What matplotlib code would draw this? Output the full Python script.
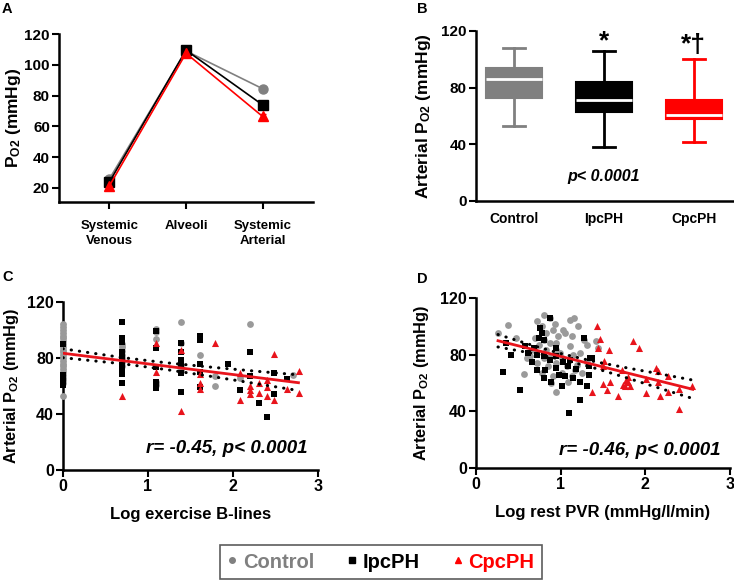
import numpy as np
import matplotlib
matplotlib.use("Agg")
from matplotlib import pyplot as plt
from matplotlib.lines import Line2D

plt.rcParams['font.family'] = ['Liberation Sans', 'DejaVu Sans']
plt.rcParams['font.weight'] = 'bold'
plt.rcParams['axes.labelweight'] = 'bold'
plt.rcParams['mathtext.fontset'] = 'custom'
plt.rcParams['mathtext.rm'] = 'Liberation Sans:bold'
plt.rcParams['mathtext.bf'] = 'Liberation Sans:bold'
plt.rcParams['mathtext.it'] = 'Liberation Sans:bold:italic'
plt.rcParams['mathtext.default'] = 'rm'

GRAY = '#808080'
GRAY_PT = '#9a9a9a'
RED = '#ff0000'
RED_PT = '#e8141c'

# ---- panel A: PO2 along the circuit (mean +- sem)
sites = ['Systemic\nVenous', 'Alveoli', 'Systemic\nArterial']
a_ctrl = [26, 109, 84.5]
a_ipc = [24, 109.5, 74]
a_cpc = [21.5, 107.5, 66.5]
a_ctrl_err = [1.0, 1.0, 1.0]
a_ipc_err = [1.0, 1.0, 1.5]
a_cpc_err = [1.2, 1.0, 1.8]

# ---- panel B: arterial PO2 box stats (min, q1, median, q3, max)
groups = ['Control', 'IpcPH', 'CpcPH']
b_min = [53, 38, 42]
b_q1 = [73, 63, 58]
b_med = [86, 71, 61]
b_q3 = [94, 84, 71]
b_max = [108, 106, 100]
b_marks = ['', '*', '*\u2020']

# ---- panel C: arterial PO2 vs log exercise B-lines
c_ctrl_x = [0, 0, 0, 0, 0, 0, 0, 0, 0, 0,
            0, 0, 0, 0, 0, 0, 0, 0, 0, 0,
            0, 0, 0,
            0.693, 0.693, 0.693, 0.693, 0.693, 0.693, 0.693,
            1.099, 1.099, 1.099, 1.099, 1.099,
            1.386, 1.386, 1.386, 1.386,
            1.609, 1.792, 1.792, 2.079, 2.197, 2.708]
c_ctrl_y = [53, 62, 64, 66, 68, 70, 72, 74, 76, 78,
            80, 82, 84, 86, 88, 90, 92, 94, 96, 98,
            100, 102, 104,
            90, 88, 85, 82, 80, 77, 74,
            101, 98.8, 93.3, 63, 61,
            106, 90.5, 75, 71.4,
            82, 67, 60, 65.5, 104, 68]
c_ipc_x = [0, 0, 0, 0, 0,
           0.693, 0.693, 0.693, 0.693, 0.693, 0.693, 0.693, 0.693, 0.693,
           1.099, 1.099, 1.099, 1.099, 1.099,
           1.386, 1.386, 1.386, 1.386, 1.386, 1.386,
           1.609, 1.609, 1.609, 1.609, 1.609,
           1.946, 2.079, 2.197, 2.197, 2.303, 2.398, 2.485, 2.485, 2.639]
c_ipc_y = [61, 63, 65, 68, 90,
           106, 94.5, 91.7, 84, 80, 75, 71, 68.6, 62,
           99.5, 87, 73.8, 63, 58.3,
           90.5, 84, 78.6, 75, 69, 56,
           95.7, 93, 76, 70, 59.5,
           75.5, 57, 84, 67.5, 48, 38, 69, 54, 65]
c_cpc_x = [0.693, 1.099, 1.099, 1.386, 1.386,
           1.609, 1.609, 1.609, 1.792, 2.079, 2.079,
           2.197, 2.197, 2.197, 2.303, 2.303, 2.398, 2.398, 2.398,
           2.485, 2.485, 2.639, 2.773, 2.773]
c_cpc_y = [53, 90.5, 70.2, 85.7, 42,
           68.6, 62, 58, 90.7, 69, 50,
           60, 57, 54, 62, 55, 64, 59.5, 53,
           83, 50, 58, 71, 55]
c_fit = [83.4, -7.6]                    # intercept, slope
c_band_x = [0, 0.7, 1.2, 1.8, 2.3, 2.77]
c_band_hw = [3.2, 2.2, 2.4, 3.4, 4.5, 5.6]

# ---- panel D: arterial PO2 vs log rest PVR
d_ctrl_x = [0.26, 0.38, 0.47, 0.57, 0.60, 0.80, 0.72, 0.78, 0.87, 0.93,
            0.91, 1.03, 1.11, 1.16, 1.21, 0.97, 1.05, 1.13, 0.83, 0.80,
            0.87, 0.95, 0.74, 0.68, 0.83, 0.95, 1.11, 1.27, 1.31, 1.42,
            1.44, 0.64, 0.80, 0.89, 1.01, 1.15, 1.23, 0.72, 0.85, 0.95,
            1.07, 1.19, 1.31, 0.78, 0.91, 1.01, 1.13, 1.25, 0.95, 1.09,
            0.89, 0.70, 0.99, 1.17]
d_ctrl_y = [95, 101, 92, 66.6, 78, 108, 103.5, 100, 106, 102,
            97.6, 97.6, 104.7, 106, 100, 93, 95, 93, 95, 90.6,
            88, 88, 87, 83.5, 83.5, 83.5, 86, 90.6, 87, 89.9,
            84.5, 79, 77.6, 79, 77.6, 80, 81, 74, 71.8, 74,
            71.8, 73, 75, 67, 64.7, 67, 64.7, 67, 54, 61,
            60, 92, 81, 69]
d_ipc_x = [0.32, 0.41, 0.52, 0.87, 0.76, 0.74, 0.80, 0.68, 0.62, 0.72,
           0.80, 0.87, 0.95, 1.03, 1.09, 1.11, 0.95, 0.81, 0.72, 0.80,
           0.89, 1.01, 1.05, 1.15, 1.23, 1.31, 1.23, 1.10, 1.33, 1.35,
           1.27, 1.33, 0.95, 1.37, 0.35, 0.58, 0.78, 0.98, 1.18, 0.66]
d_ipc_y = [68, 80, 55, 106, 99, 92, 90.6, 84.7, 81, 80,
           79, 76.5, 79, 75, 72, 76.5, 70.6, 69.4, 69.4, 63.5,
           61, 57.6, 64.7, 63.5, 61, 57.6, 48, 38.8, 66, 77.6,
           92, 72, 84.7, 77.4, 88, 86, 95, 66, 70, 75]
d_cpc_x = [1.425, 1.46, 1.44, 1.575, 1.92, 1.86, 1.51, 1.50, 1.37, 1.50,
           1.55, 1.58, 1.68, 1.72, 1.74, 1.79, 1.82, 1.77, 2.01, 2.13,
           2.15, 2.17, 2.15, 2.27, 2.27, 2.40, 2.40, 2.55, 2.01, 1.76,
           1.80]
d_cpc_y = [100, 91, 84.7, 83, 84.7, 89.9, 75.3, 71.8, 54, 59,
           55.3, 61, 50.6, 69.4, 58.8, 61, 57.6, 62, 53, 70.6,
           68.7, 50.6, 61, 64.7, 53.4, 55.8, 41.9, 58.1, 63, 58,
           64.5]
d_fit = [93.7, -14.9]
d_band_x = [0.26, 0.7, 1.0, 1.4, 1.8, 2.2, 2.56]
d_band_hw = [4.4, 2.7, 2.0, 2.3, 3.6, 5.2, 6.5]

W, H = 734, 581
fig = plt.figure(figsize=(W / 100, H / 100), dpi=100)


def px_axes(l, t, r, b):
    return fig.add_axes([l / W, 1 - b / H, (r - l) / W, (b - t) / H])


def style(ax, size=11):
    for s in ['top', 'right']:
        ax.spines[s].set_visible(False)
    for s in ['left', 'bottom']:
        ax.spines[s].set_linewidth(1.8)
    ax.tick_params(direction='out', length=5, width=1.5, labelsize=size, pad=1.5)


ylab = 'Arterial P$_{O2}$ (mmHg)'

# ===== A
axA = px_axes(59, 34, 313, 202)
style(axA)
xa = np.arange(len(sites))
axA.errorbar(xa, a_ctrl, yerr=a_ctrl_err, color=GRAY, marker='o', ms=6.5, lw=1.2, capsize=2)
axA.errorbar(xa, a_ipc, yerr=a_ipc_err, color='black', marker='s', ms=6.5, lw=1.2, capsize=2)
axA.errorbar(xa, a_cpc, yerr=a_cpc_err, color=RED, marker='^', ms=6.5, lw=1.2, capsize=2)
axA.set_xlim(-0.66, 2.66)
axA.set_ylim(10.9, 120)
axA.set_yticks([20, 40, 60, 80, 100, 120])
axA.set_xticks(xa)
axA.set_xticklabels(sites, fontsize=9.5, linespacing=1.35)
axA.tick_params(axis='x', pad=8)
axA.set_ylabel('P$_{O2}$ (mmHg)', fontsize=12.5)
axA.yaxis.set_label_coords(-0.142, 0.5)

# ===== B
axB = px_axes(476, 31, 734, 201)
style(axB)
stats = []
for i, g in enumerate(groups):
    stats.append(dict(label=g, whislo=b_min[i], q1=b_q1[i], med=b_med[i],
                      q3=b_q3[i], whishi=b_max[i]))
cols = [GRAY, 'black', RED]
bp = axB.bxp(stats, positions=[0, 1, 2], widths=0.63, patch_artist=True,
             showfliers=False, capwidths=0.25,
             medianprops=dict(color='white', lw=2))
for i, c in enumerate(cols):
    bp['boxes'][i].set(facecolor=c, edgecolor=c, lw=1.5)
    for w in bp['whiskers'][2 * i:2 * i + 2]:
        w.set(color=c, lw=2)
    for cp in bp['caps'][2 * i:2 * i + 2]:
        cp.set(color=c, lw=2)
for i, m in enumerate(b_marks):
    if m:
        # the dagger reaches lower than the asterisk, so lift it a bit more
        off = 2.0 if '\u2020' in m else -1.5
        axB.text(i, b_max[i] + off, m, ha='center', va='bottom', fontsize=19)
axB.text(1, 17, 'p< 0.0001', ha='center', va='center', fontsize=11.5, style='italic')
axB.set_xlim(-0.425, 2.447)
axB.set_ylim(0, 120)
axB.set_yticks([0, 40, 80, 120])
axB.tick_params(axis='x', length=0, pad=8, labelsize=10)
axB.set_ylabel(ylab, fontsize=12.5)
axB.yaxis.set_label_coords(-0.167, 0.5)


def scatter_panel(ax, cx, cy, ix, iy, rx, ry, fit, bx, bhw):
    style(ax, 11.5)
    ax.scatter(cx, cy, s=24, marker='o', color=GRAY_PT, lw=0, clip_on=False, zorder=3)
    ax.scatter(ix, iy, s=24, marker='s', color='black', lw=0, clip_on=False, zorder=3)
    ax.scatter(rx, ry, s=26, marker='^', color=RED_PT, lw=0, clip_on=False, zorder=3)
    bx = np.array(bx)
    line = fit[0] + fit[1] * bx
    ax.plot([bx[0], bx[-1]], [line[0], line[-1]], color=RED_PT, lw=2, zorder=4)
    for sgn in (1, -1):
        ax.plot(bx, line + sgn * np.array(bhw), color='black', lw=2.2,
                ls=(0, (0.1, 2.6)), dash_capstyle='round', zorder=4)
    ax.set_xlim(0, 3)
    ax.set_ylim(0, 120)
    ax.set_xticks([0, 1, 2, 3])
    ax.set_yticks([0, 40, 80, 120])
    ax.set_ylabel(ylab, fontsize=11.8)


# ===== C
axC = px_axes(63, 302, 318, 470)
scatter_panel(axC, c_ctrl_x, c_ctrl_y, c_ipc_x, c_ipc_y, c_cpc_x, c_cpc_y,
              c_fit, c_band_x, c_band_hw)
axC.set_xlabel('Log exercise B-lines', fontsize=12)
axC.yaxis.set_label_coords(-0.165, 0.5)
axC.xaxis.set_label_coords(0.5, -0.22)
axC.text(2.88, 15.7, 'r= -0.45, p< 0.0001', ha='right', va='center',
         fontsize=13.5, style='italic')

# ===== D
axD = px_axes(476, 298, 730, 468)
scatter_panel(axD, d_ctrl_x, d_ctrl_y, d_ipc_x, d_ipc_y, d_cpc_x, d_cpc_y,
              d_fit, d_band_x, d_band_hw)
axD.set_xlabel('Log rest PVR (mmHg/l/min)', fontsize=12)
axD.yaxis.set_label_coords(-0.177, 0.5)
axD.xaxis.set_label_coords(0.5, -0.22)
axD.text(2.89, 12.7, 'r= -0.46, p< 0.0001', ha='right', va='center',
         fontsize=13.5, style='italic')

# panel letters
for lab, x, y in [('A', 2, 2), ('B', 417, 2), ('C', 2, 270), ('D', 417, 272)]:
    fig.text(x / W, 1 - y / H, lab, ha='left', va='top', fontsize=10.5)

# legend
handles = [Line2D([], [], ls='none', marker='o', color=GRAY, ms=4),
           Line2D([], [], ls='none', marker='s', color='black', ms=4),
           Line2D([], [], ls='none', marker='^', color=RED, ms=4)]
leg = fig.legend(handles, groups, loc='center', ncol=3,
                 bbox_to_anchor=(381 / W, 1 - 562 / H), fontsize=14.5,
                 frameon=True, fancybox=False, edgecolor='#333333',
                 handlelength=0.5, handletextpad=0.3, columnspacing=1.6,
                 borderpad=0.35)
leg.get_frame().set_linewidth(1.2)
for t, c in zip(leg.get_texts(), [GRAY, 'black', RED]):
    t.set_color(c)

fig.savefig('out.png', dpi=100)
